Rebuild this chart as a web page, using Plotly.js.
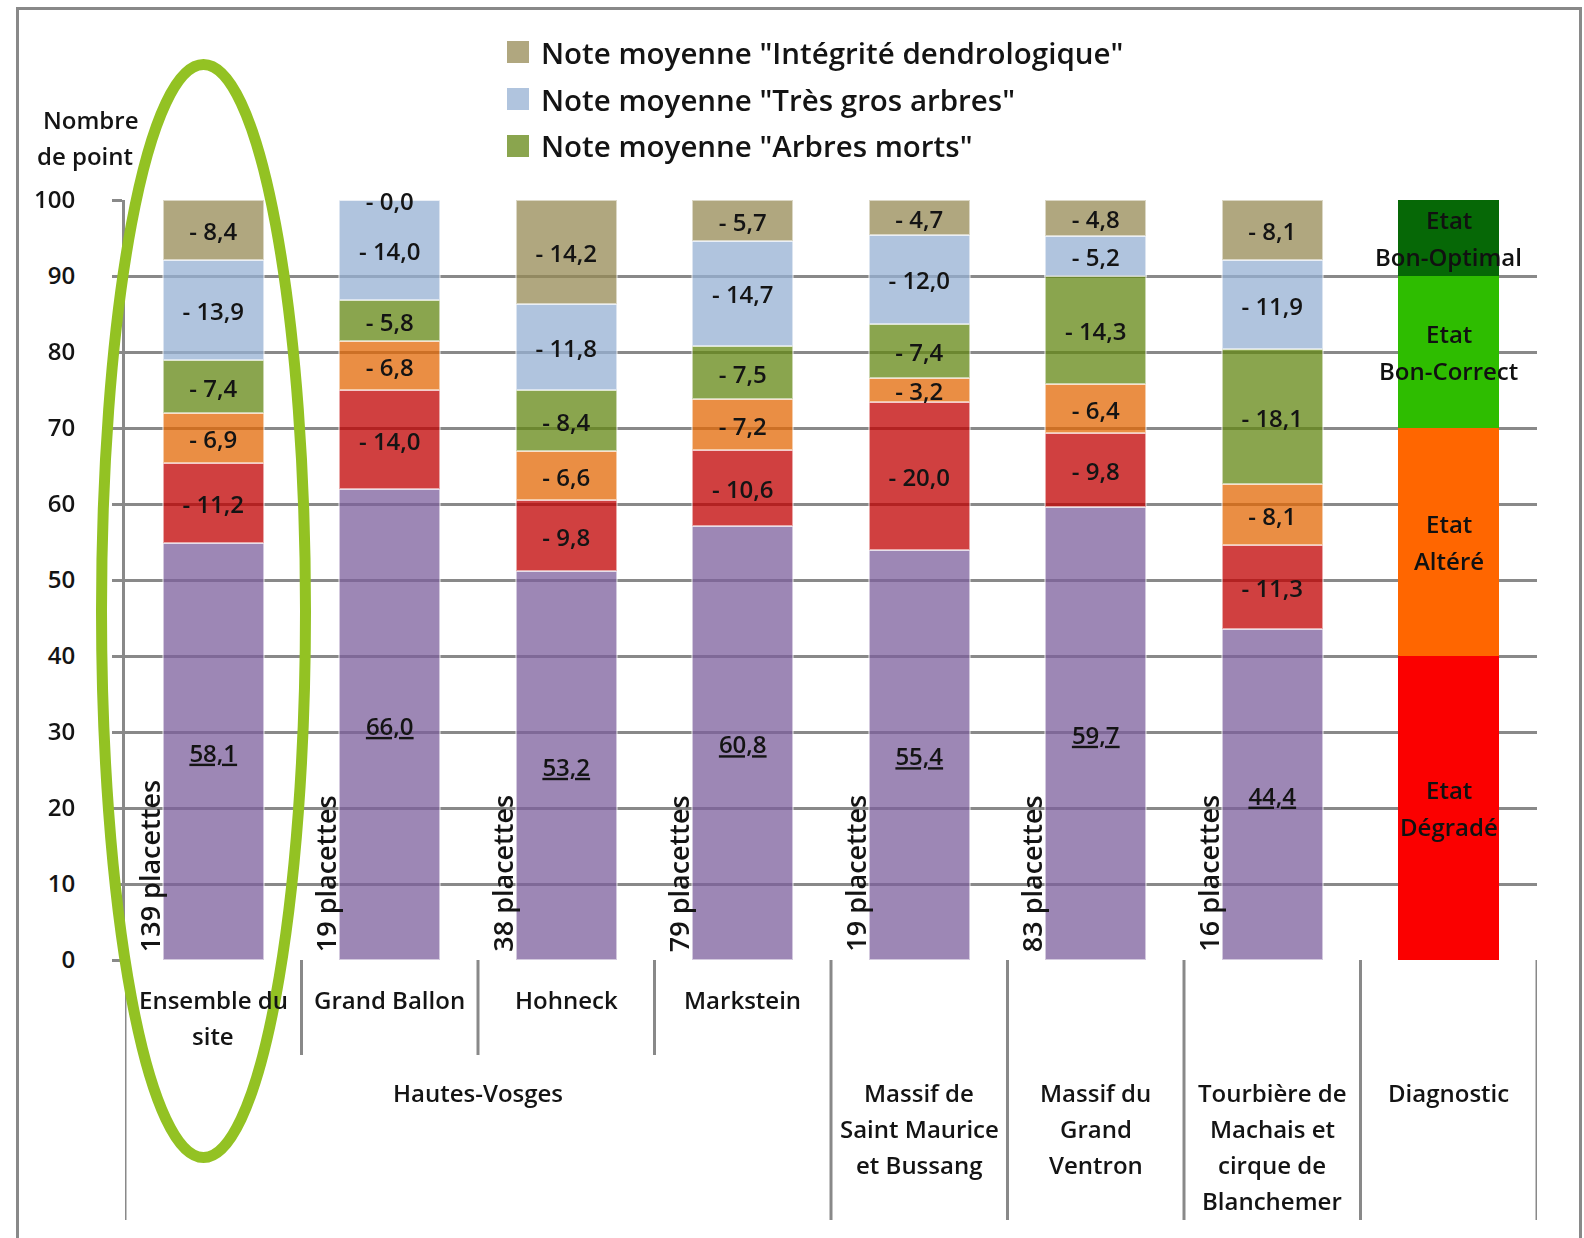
<!DOCTYPE html>
<html><head><meta charset="utf-8">
<script src="https://cdn.plot.ly/plotly-3.0.1.min.js"></script>
<style>html,body{margin:0;padding:0;background:#fff}</style>
</head><body>
<div id="chart" style="width:1584px;height:1238px"></div>
<script>
// ---------- DATA ----------
const categories = ["Ensemble du site","Grand Ballon","Hohneck","Markstein",
  "Massif de Saint Maurice et Bussang","Massif du Grand Ventron",
  "Tourbière de Machais et cirque de Blanchemer","Diagnostic"];
const innerLabels = [["Ensemble du","site"],["Grand Ballon"],["Hohneck"],["Markstein"],[],[],[],[]];
const groups = ["Hautes-Vosges","Hautes-Vosges","Hautes-Vosges","Hautes-Vosges",
  "Massif de Saint Maurice et Bussang","Massif du Grand Ventron",
  "Tourbière de Machais et cirque de Blanchemer","Diagnostic"];
const groupLines = {
  "Hautes-Vosges":["Hautes-Vosges"],
  "Massif de Saint Maurice et Bussang":["Massif de","Saint Maurice","et Bussang"],
  "Massif du Grand Ventron":["Massif du","Grand","Ventron"],
  "Tourbière de Machais et cirque de Blanchemer":["Tourbière de","Machais et","cirque de","Blanchemer"],
  "Diagnostic":["Diagnostic"]
};
// stacked from bottom to top (sites only)
const noteFinale     = [58.1, 66.0, 53.2, 60.8, 55.4, 59.7, 44.4];
const deductionRouge = [11.2, 14.0,  9.8, 10.6, 20.0,  9.8, 11.3];
const deductionOrange= [ 6.9,  6.8,  6.6,  7.2,  3.2,  6.4,  8.1];
const arbresMorts    = [ 7.4,  5.8,  8.4,  7.5,  7.4, 14.3, 18.1];
const tresGrosArbres = [13.9, 14.0, 11.8, 14.7, 12.0,  5.2, 11.9];
const integrite      = [ 8.4,  0.0, 14.2,  5.7,  4.7,  4.8,  8.1];
const placettes      = [139, 19, 38, 79, 19, 83, 16];
const seriesNames = ['Note finale','Déduction 1','Déduction 2',
  'Note moyenne "Arbres morts"','Note moyenne "Très gros arbres"','Note moyenne "Intégrité dendrologique"'];
const legendOrder = [5, 4, 3];
// diagnostic scale (bottom to top)
const diagStates = [["Etat","Dégradé"],["Etat","Altéré"],["Etat","Bon-Correct"],["Etat","Bon-Optimal"]];
const diagValues = [40, 30, 20, 10];

// ---------- STYLE ----------
const seriesColors = ['rgb(124,95,157)','rgb(192,0,0)','rgb(227,104,6)','rgb(99,135,19)','rgb(150,176,211)','rgb(150,138,84)'];
const diagColors = ['#fb0000','#ff6600','#2ebd00','#066806'];
const FONT = 'Open Sans, Noto Sans, Liberation Sans, sans-serif';
const WEIGHT = 600;
const TXT = '#141414';
const GRID = '#898989';
const L = 125, R = 47, T = 200, B = 278;
const W = 1584 - L - R, H = 1238 - T - B;
const px = p => (p - L) / W;
const py = p => (T + H - p) / H;
const LABEL_DROP = 0.55; // small downward nudge of segment labels (axis units)
const f = (size, color) => ({family: FONT, size: size, color: color || TXT, weight: WEIGHT});

const stack = [noteFinale, deductionRouge, deductionOrange, arbresMorts, tresGrosArbres, integrite];
const siteCats = categories.slice(0, 7);
const fmt = v => v.toFixed(1).replace('.', ',');
const data = [];

stack.forEach((arr, k) => {
  data.push({type:'bar', x: siteCats, y: arr, name: seriesNames[k],
    marker:{color: seriesColors[k], line:{color:'rgba(255,255,255,0.55)', width:2}},
    opacity: 0.75, showlegend:false});
});
diagValues.forEach((v, k) => {
  data.push({type:'bar', x:['Diagnostic'], y:[v], name: diagStates[k].join(' '),
    marker:{color: diagColors[k], line:{width:0}}, showlegend:false});
});

// segment labels at normalized midpoints
const totals = siteCats.map((_, i) => stack.reduce((s, a) => s + a[i], 0));
let cum = siteCats.map(() => 0);
stack.forEach((arr, k) => {
  const mids = arr.map((v, i) => (cum[i] + v / 2) / totals[i] * 100 - LABEL_DROP);
  cum = cum.map((c, i) => c + arr[i]);
  data.push({type:'scatter', mode:'text', x: siteCats, y: mids,
    text: arr.map(v => k === 0 ? '<u>' + fmt(v) + '</u>' : '- ' + fmt(v)),
    textposition:'middle center', textfont: f(24),
    cliponaxis:false, showlegend:false, hoverinfo:'skip'});
});

const annotations = [];
const shapes = [];

// y axis title
annotations.push({xref:'paper', yref:'paper', x:px(41), y:py(120), xanchor:'left', yanchor:'middle',
  text:'Nombre', showarrow:false, font: f(24)});
annotations.push({xref:'paper', yref:'paper', x:px(35), y:py(155), xanchor:'left', yanchor:'middle',
  text:'de point', showarrow:false, font: f(24)});

// placettes (vertical)
siteCats.forEach((c, i) => {
  annotations.push({xref:'x', yref:'y', x:c, y:0, xshift:-64, yshift:6, xanchor:'center', yanchor:'bottom',
    textangle:-90, text: placettes[i] + ' placettes', showarrow:false, font: f(27)});
});

// diagnostic labels
let dc = 0;
const diagTotal = diagValues.reduce((a, b) => a + b, 0);
diagValues.forEach((v, k) => {
  const mid = (dc + v / 2) / diagTotal * 100;
  dc += v;
  const lines = diagStates[k];
  lines.forEach((ln, j) => {
    annotations.push({xref:'x', yref:'y', x:'Diagnostic', y:mid, yshift: (lines.length - 1) * 18.5 - j * 37,
      text: ln, showarrow:false, font: f(24, '#111')});
  });
});

// category labels (inner row)
innerLabels.forEach((lines, i) => {
  lines.forEach((ln, j) => {
    annotations.push({xref:'x', yref:'paper', x:i, y:py(999 + 36 * j), yanchor:'middle',
      text: ln, showarrow:false, font: f(24)});
  });
});
// group labels (outer row)
const groupNames = [...new Set(groups)];
groupNames.forEach(g => {
  const idx = groups.map((gg, i) => gg === g ? i : -1).filter(i => i >= 0);
  const center = (idx[0] + idx[idx.length - 1]) / 2;
  groupLines[g].forEach((ln, j) => {
    annotations.push({xref:'x', yref:'paper', x:center, y:py(1092 + 36.3 * j), yanchor:'middle',
      text: ln, showarrow:false, font: f(24)});
  });
});

// dividers below the axis
const lineStyle = {color: GRID, width: 3};
shapes.push({type:'line', xref:'x', yref:'paper', x0:-0.5, x1:-0.5, y0:py(960), y1:py(1220), line:lineStyle});
for (let i = 1; i <= categories.length; i++) {
  const long = i === categories.length || groups[i] !== groups[i - 1];
  shapes.push({type:'line', xref:'x', yref:'paper', x0:i - 0.5, x1:i - 0.5, y0:py(960), y1:py(long ? 1220 : 1055), line:lineStyle});
}

// custom legend
legendOrder.forEach((k, r) => {
  const cy = 52 + 47 * r;
  shapes.push({type:'rect', xref:'paper', yref:'paper', x0:px(507), x1:px(529), y0:py(cy + 11), y1:py(cy - 11),
    fillcolor: seriesColors[k], opacity:0.75, line:{width:0}});
  annotations.push({xref:'paper', yref:'paper', x:px(539), y:py(cy), xanchor:'left', yanchor:'middle',
    text: seriesNames[k], showarrow:false, font: f(29.5)});
});

// outer frame
shapes.push({type:'rect', xref:'paper', yref:'paper', x0:px(17.5), x1:px(1580.5), y0:py(1270), y1:py(8.5),
  line:{color:GRID, width:3}, fillcolor:'rgba(0,0,0,0)', layer:'below'});
// highlight ellipse
shapes.push({type:'circle', xref:'paper', yref:'paper', x0:px(101.5), x1:px(305.5), y0:py(1157.5), y1:py(64.5),
  line:{color:'#93c223', width:11}, fillcolor:'rgba(0,0,0,0)', layer:'above'});

const layout = {
  width:1584, height:1238,
  margin:{l:L, r:R, t:T, b:B, pad:0},
  paper_bgcolor:'#fff', plot_bgcolor:'#fff',
  barmode:'stack', barnorm:'percent', bargap:0.428,
  showlegend:false,
  font:{family:FONT, color:TXT},
  xaxis:{type:'category', categoryorder:'array', categoryarray:categories, range:[-0.5, 7.5],
    showticklabels:false, ticks:'', showgrid:false, showline:false, zeroline:false, fixedrange:true},
  yaxis:{range:[0,100], tickvals:[0,10,20,30,40,50,60,70,80,90,100], ticks:'outside', ticklen:10,
    tickwidth:3, tickcolor:GRID, showgrid:true, gridcolor:GRID, gridwidth:3, showline:true,
    linecolor:GRID, linewidth:3, zeroline:false, ticklabelstandoff:32,
    tickfont: f(24), fixedrange:true},
  annotations: annotations,
  shapes: shapes
};
Plotly.newPlot('chart', data, layout, {displayModeBar:false, staticPlot:true});
</script>
</body></html>
